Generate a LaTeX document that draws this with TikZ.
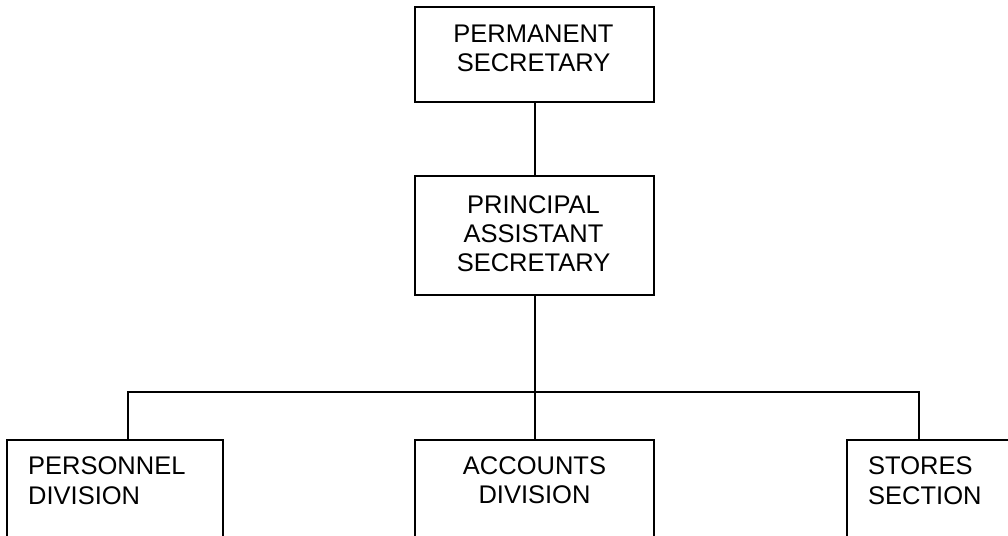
\documentclass[tikz,border=0pt]{standalone}
\usepackage{fontspec}
\setmainfont{Liberation Sans}
\begin{document}
\begin{tikzpicture}[x=1pt,y=-1pt,
  box/.style={draw=black,line width=2.2pt,fill=none,inner sep=0pt},
  lab/.style={font=\fontsize{25.5}{29.3}\selectfont,inner sep=0pt,anchor=base},
  labl/.style={lab,align=left,anchor=base west},
  labc/.style={lab,align=center},
  conn/.style={draw=black,line width=2.2pt}]
\clip (0,0) rectangle (1008,535);
\fill[white] (0,0) rectangle (1008,535);
% boxes
\node[box,minimum width=239.3pt,minimum height=95pt] (ps) at (534.65,54.2) {};
\node[box,minimum width=239.3pt,minimum height=119.3pt] (pas) at (534.65,235.35) {};
\node[box,minimum width=215.4pt,minimum height=140pt] (pers) at (115,510) {};
\node[box,minimum width=239.3pt,minimum height=140pt] (acc) at (534.65,510) {};
\node[box,minimum width=200pt,minimum height=140pt] (sto) at (946.7,510) {};
% texts (anchored at the baseline of the last line)
\node[labc] (tps) at (533.5,71.7) {PERMANENT\\SECRETARY};
\node[labc] (tpas) at (533.5,271.7) {PRINCIPAL\\ASSISTANT\\SECRETARY};
\node[labl] (tpers) at (28,504) {PERSONNEL\\DIVISION};
\node[labc] (tacc) at (534.5,503.5) {ACCOUNTS\\DIVISION};
\node[labl] (tsto) at (868,504) {STORES\\SECTION};
% connectors
\coordinate (jm) at (534.65,392.3);
\coordinate (jl) at (127.7,392.3);
\coordinate (jr) at (919,392.3);
\draw[conn] (ps.south) -- (pas.north);
\draw[conn] (pas.south) -- (acc.north);
\draw[conn] (jl |- pers.north) -- (jl) -- (jr) -- (jr |- sto.north);
\end{tikzpicture}
\end{document}
